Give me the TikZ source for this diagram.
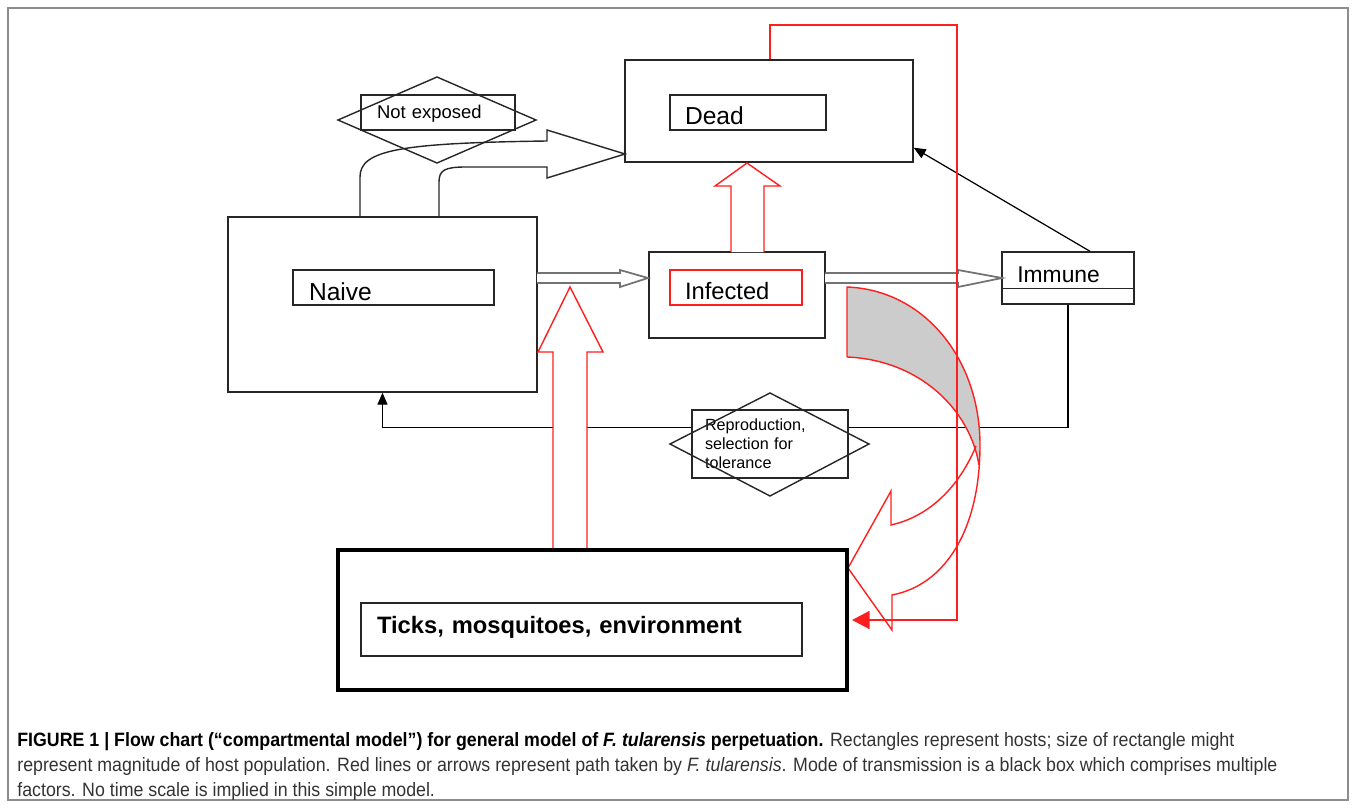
\documentclass[tikz,border=0pt]{standalone}
\usepackage{fontspec}
\setmainfont{Liberation Sans}
\newfontfamily\capfont[FakeStretch=0.92]{Liberation Sans}
\usetikzlibrary{calc,arrows.meta}

\definecolor{pathred}{RGB}{255,30,30}
\tikzset{
  host/.style={draw=black!85, line width=0.8pt, inner sep=0pt},
  tag/.style={draw=black!85, line width=0.8pt, inner ysep=0pt, minimum height=0.7cm, text depth=0cm, text height=0.5cm, align=left},
  blockarrow/.style={draw=black!85, line width=0.8pt, line join=miter},
  greyarrow/.style={draw=black!55, line width=1pt, fill=white},
  redarrow/.style={draw=pathred, line width=0.8pt, fill=white},
  thinarrow/.style={draw=black, line width=0.7pt, -{Triangle[length=0.24cm,width=0.2cm]}}
}

\begin{document}
\begin{tikzpicture}[x=0.02cm, y=-0.02cm]
		%%%%% START %%%%%
		\useasboundingbox (0,0) rectangle (1356,808);
		\draw[black!45, line width=0.6pt] (8,8) rectangle (1348,800);
		
		% hosts
		\node[host, minimum width=5.76cm, minimum height=2.04cm] (dead) at (769,111) {};
		\node[tag, text width=2.52cm, inner xsep=0.3cm, font=\fontsize{14}{16}\selectfont] (deadtag) at (748,112.5) {Dead};
		
		\node[host, minimum width=6.18cm, minimum height=3.5cm] (naive) at (382.5,304.5) {};
		\node[tag, text width=3.38cm, inner xsep=0.32cm, font=\fontsize{14}{16}\selectfont] (naivetag) at (393.5,287.5) {Naive};
		
		\node[host, minimum width=3.52cm, minimum height=1.72cm] (infected) at (737,295) {};
		\node[tag, draw=pathred, text width=2.04cm, inner xsep=0.3cm, text height=0.46cm, font=\fontsize{13.5}{16}\selectfont] (infectedtag) at (736,287.5) {Infected};
		
		\node[host, minimum width=2.64cm, minimum height=1.04cm] (immune) at (1068,278) {};
		\draw[black!85, line width=0.8pt] ($(immune.south west)+(0,-16)$) -- ($(immune.south east)+(0,-16)$);
		\node[anchor=base west, inner sep=0pt, font=\fontsize{13}{15}\selectfont] (immunetag) at (1017,282) {Immune};
		
		% not exposed
		\draw[black!85, line width=0.8pt] (338,120) -- (437,77) -- (536,120) -- (437,163) -- cycle;
		\node[tag, text width=2.44cm, inner xsep=0.32cm, text height=0.26cm, font=\fontsize{10.5}{12}\selectfont] (notexposed) at (438,112.5) {Not exposed};
		
		% naive -> dead, not exposed
		\draw[blockarrow] (360,217) -- (360,177) .. controls (360,150) and (400,143) .. (547,141)
		  -- (547,130) -- (625,154) -- (547,178) -- (547,167) -- (466,167)
		  .. controls (445,167) and (439,170) .. (439,182) -- (439,217);
		
		% naive -> infected -> immune
		\draw[greyarrow] (537,273) -- (620,273) -- (620,270) -- (648,278) -- (620,287) -- (620,283) -- (537,283);
		\draw[greyarrow] (825,273) -- (958,273) -- (958,270) -- (1002,278) -- (958,287) -- (958,283) -- (825,283);
		
		% immune -> dead
		\draw[thinarrow] ($(immune.north)+(22,0)$) -- ($(dead.south east)+(0,-15)$);
		
		% immune -> naive, reproduction
		\draw[thinarrow] (immune.south) |- ($(naive.south)+(0,35)$) -- (naive.south);
		
		% red paths
		\draw[redarrow] (553,550) -- (553,352) -- (538,352) -- (570,287) -- (603,352) -- (587,352) -- (587,550);
		\draw[redarrow] (731,252) -- (731,186) -- (715,186) -- (747,163) -- (780,186) -- (764,186) -- (764,252);
		
		\node[host, fill=white, text width=2.6cm, inner xsep=0.26cm, minimum height=1.36cm, align=left, font=\fontsize{9.2}{10.8}\selectfont] (repro) at (770,444) {Reproduction,\\selection for\\tolerance};
		\draw[black!85, line width=0.8pt] (670,444) -- (770,393) -- (869,444) -- (770,496) -- cycle;
		
		% curved arrow back to the vectors
		\fill[black!20] (847,287) .. controls (925,290) and (980,360) .. (980,445) -- (979,465)
		  .. controls (970,410) and (920,360) .. (847,357) -- cycle;
		\draw[pathred, line width=0.8pt, line join=miter] (847,357) -- (847,287)
		  .. controls (925,290) and (980,360) .. (980,445)
		  .. controls (980,530) and (945,585) .. (892,595)
		  -- (892,630) -- (848,568) -- (891,491) -- (891,525)
		  .. controls (935,515) and (962,480) .. (976,446);
		\draw[pathred, line width=0.8pt] (847,357) .. controls (920,360) and (970,410) .. (979,465);
		
		% vectors
		\node[host, line width=1.8pt, draw=black, minimum width=10.18cm, minimum height=2.8cm] (ticks) at (592.5,620) {};
		\node[tag, text width=8.18cm, inner xsep=0.32cm, minimum height=1.06cm, text height=0.14cm, font=\bfseries\fontsize{13.5}{16}\selectfont] (tickstag) at (581.5,629.5) {Ticks, mosquitoes, environment};
		
		\draw[pathred, line width=0.9pt, shorten >=2pt, -{Triangle[length=0.35cm,width=0.36cm]}]
		  (dead.north -| 770,0) -- (770,25) -- (957,25) -- (957,620) -- (ticks.east);
		
		% caption
		\node[anchor=north west, align=left, inner sep=0pt, text=black!80, font=\capfont\fontsize{11}{14.2}\selectfont] (caption) at (17,732)
		  {{\color{black}\bfseries FIGURE 1 | Flow chart (“compartmental model”) for general model of \textit{F. tularensis} perpetuation.} Rectangles represent hosts; size of rectangle might\\
		   represent magnitude of host population. Red lines or arrows represent path taken by \textit{F. tularensis}. Mode of transmission is a black box which comprises multiple\\
		   factors. No time scale is implied in this simple model.};
		%%%%% END %%%%%
	\end{tikzpicture}
\end{document}
